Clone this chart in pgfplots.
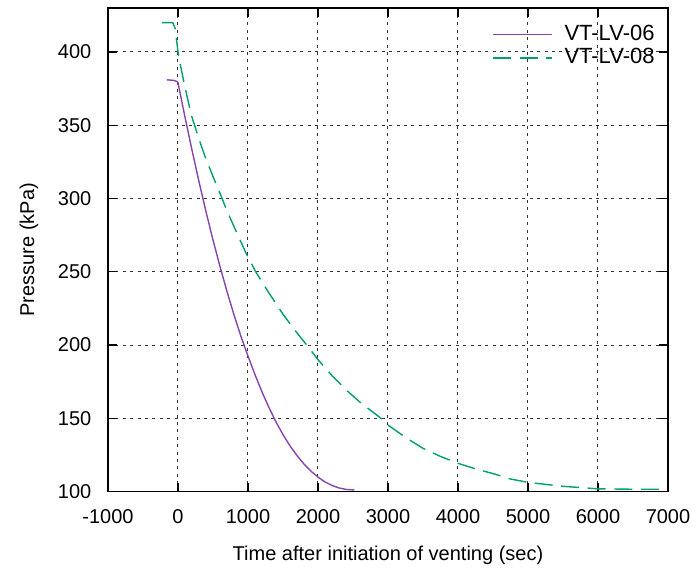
\documentclass[border=0pt]{standalone}
\usepackage{pgfplots}
\pgfplotsset{compat=1.18}
\usepackage{fontspec}
\setmainfont{Liberation Sans}
\definecolor{gpviolet}{RGB}{135,68,172}
\definecolor{gpgreen}{HTML}{009E73}
\begin{document}
\begin{tikzpicture}
\begin{axis}[
  scale only axis,
  width=280pt, height=241.8pt,
  xmin=-1000, xmax=7000, ymin=100, ymax=430,
  xtick={-1000,0,1000,2000,3000,4000,5000,6000,7000},
  ytick={100,150,200,250,300,350,400},
  /pgf/number format/assume math mode=true,
  /pgf/number format/set thousands separator={},
  xtick pos=both, ytick pos=both,
  tick align=inside,
  major tick length=4.5pt,
  tick style={black, line width=0.6pt},
  axis line style={black, line width=0.8pt},
  grid=major,
  major grid style={black!80, line width=0.5pt, dash pattern=on 1.5pt off 2.2pt},
  xticklabel shift=5.2pt,
  yticklabel shift=4.8pt,
  xlabel={Time after initiation of venting (sec)},
  ylabel={Pressure (kPa)},
  xlabel style={yshift=-4.5pt},
  ylabel style={yshift=3pt},
  legend style={at={(rel axis cs:1,1)}, anchor=north east, xshift=-1.5pt, yshift=-5.25pt,
    draw=none, fill=none, row sep=0pt, font=\fontsize{11pt}{11.7pt}\selectfont,
    nodes={text height=7.7pt, text depth=2pt, inner ysep=1pt}},
  legend cell align=left,
  legend image code/.code={\draw[#1] (0pt,0pt) -- (29.3pt,0pt); \path (33.3pt,0pt);},
]
\addplot[gpviolet, line width=0.7pt] coordinates {
(-160,381.0) (-60,380.6) (-15,379.8) (0,379)
(100,355.5) (200,333) (300,311.5) (400,291) (500,271.7) (600,253.6)
(700,236.5) (800,220.6) (900,205.8) (1000,192.5) (1100,179.8) (1200,168)
(1300,157.3) (1400,147.5) (1500,138.9) (1600,131.2) (1700,124.6) (1800,118.8)
(1900,113.9) (2000,109.9) (2100,106.6) (2200,104.2) (2300,102.5) (2400,101.5)
(2520,101.1)
};
\addlegendentry{VT-LV-06}
\addplot[gpgreen, line width=0.7pt, dash pattern=on 9pt off 4.3pt] coordinates {
(-230,420) (-75,420) (-40,416) (0,400) (25,393) (100,376) (190,357)
(300,340.5) (380,329.5) (500,315) (584,305.5) (700,291.6) (850,275.5)
(974,262.5) (1110,250) (1300,235.5) (1500,221) (1700,208.3) (1840,200)
(2000,190) (2200,179.2) (2400,169.5) (2600,161) (2900,150) (3000,145.4)
(3250,137) (3500,129.5) (3750,124) (4000,119.3) (4250,115.5) (4500,112.3)
(4750,108.6) (5000,106.3) (5500,103.6) (6000,101.9) (6500,101.6) (6880,101.6)
};
\addlegendentry{VT-LV-08}
\end{axis}
\pgfresetboundingbox
\path[use as bounding box] ([xshift=-54pt,yshift=-40.15pt]current axis.south west) rectangle ([xshift=16pt,yshift=4pt]current axis.north east);
\end{tikzpicture}
\end{document}
